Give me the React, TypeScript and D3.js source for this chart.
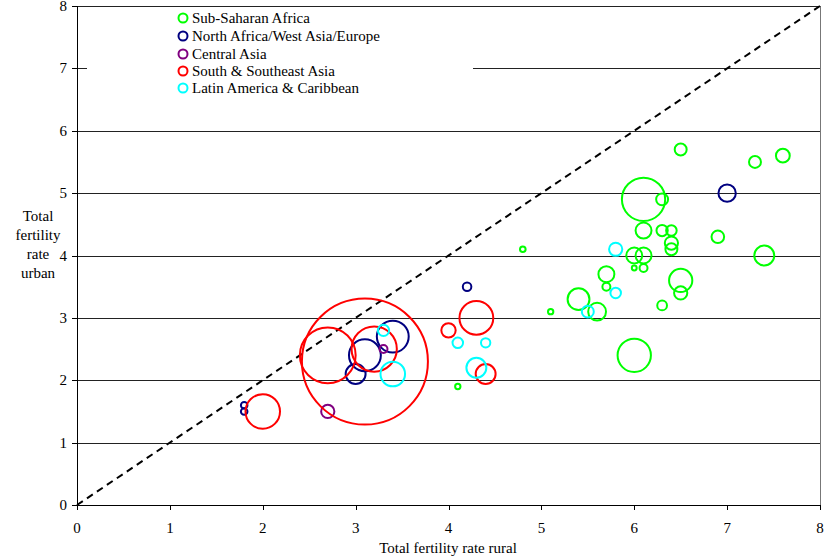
import React from "react";
import * as d3 from "d3";

const W = 824;
const H = 558;

const regions = [
  "Sub-Saharan Africa",
  "North Africa/West Asia/Europe",
  "Central Asia",
  "South & Southeast Asia",
  "Latin America & Caribbean",
];
const regionColors = ["#00ff00", "#000080", "#800080", "#ff0000", "#00ffff"];

// rural TFR, urban TFR, population (millions, approx. from bubble size)
const ssaRural = [6.5, 7.3, 7.6, 6.1, 6.3, 6.1, 6.3, 6.4, 6.4, 6.4, 6.9, 7.4, 4.8, 6.0, 6.1, 6.0, 6.1, 5.7, 6.5, 6.5, 5.7, 5.4, 5.1, 5.6, 6.3, 6.0, 4.1];
const ssaUrban = [5.7, 5.5, 5.6, 4.9, 4.9, 4.4, 4.4, 4.4, 4.2, 4.1, 4.3, 4.0, 4.1, 4.0, 4.0, 3.8, 3.8, 3.7, 3.6, 3.4, 3.5, 3.3, 3.1, 3.1, 3.2, 2.4, 1.9];
const ssaPop = [9, 9, 12, 118, 9, 16, 8, 7, 11, 9, 10, 25, 2, 16, 16, 1.5, 4, 16, 34, 11, 4, 30, 1.8, 20, 6, 70, 1.8];

const nawaRural = [7.0, 4.2, 3.4, 3.1, 3.0, 1.8, 1.8];
const nawaUrban = [5.0, 3.5, 2.7, 2.4, 2.1, 1.6, 1.5];
const nawaPop = [19, 4.6, 64, 64, 25, 2.7, 2.7];

const caRural = [3.3, 2.7];
const caUrban = [2.5, 1.5];
const caPop = [4, 11];

const ssaaRural = [3.1, 2.7, 3.2, 4.3, 4.0, 4.4, 2.0];
const ssaaUrban = [2.3, 2.4, 2.5, 3.0, 2.8, 2.1, 1.5];
const ssaaPop = [1000, 196, 129, 72, 13, 25, 75];

const lacRural = [5.8, 5.8, 5.5, 4.1, 4.4, 4.3, 3.3, 3.4];
const lacUrban = [4.1, 3.4, 3.1, 2.6, 2.6, 2.2, 2.8, 2.1];
const lacPop = [11, 7, 9, 7, 5.5, 25, 8, 38];

const ticks = [0, 1, 2, 3, 4, 5, 6, 7, 8];

const groups = [
  { rural: ssaRural, urban: ssaUrban, pop: ssaPop },
  { rural: nawaRural, urban: nawaUrban, pop: nawaPop },
  { rural: caRural, urban: caUrban, pop: caPop },
  { rural: ssaaRural, urban: ssaaUrban, pop: ssaaPop },
  { rural: lacRural, urban: lacUrban, pop: lacPop },
];

const FONT = "Liberation Serif, DejaVu Serif, serif";
const textStyle = { fontFamily: FONT, fontSize: "15px" };

export default function App() {
  const left = 77;
  const right = 820;
  const top = 6;
  const bottom = 505;
  const x = d3.scaleLinear().domain([0, 8]).range([left, right]);
  const y = d3.scaleLinear().domain([0, 8]).range([bottom, top]);
  const r = d3.scaleSqrt().domain([0, 1000]).range([0, 63]);

  const points: { cx: number; cy: number; rr: number; color: string }[] = [];
  groups.forEach((g, gi) => {
    g.rural.forEach((v, i) => {
      points.push({ cx: x(v), cy: y(g.urban[i]), rr: r(g.pop[i]), color: regionColors[gi] });
    });
  });

  const legendRows = [18, 36, 54, 71, 88];

  return (
    <svg width={W} height={H} style={{ position: "absolute", left: 0, top: 0, background: "#fff" }}>
      <rect x={0} y={0} width={W} height={H} fill="#fff" />
      {ticks.slice(1).map((t) => (
        <line key={"g" + t} x1={left} x2={right} y1={Math.round(y(t)) + 0.5} y2={Math.round(y(t)) + 0.5} stroke="#222" strokeWidth={1} />
      ))}
      <line x1={right + 0.5} x2={right + 0.5} y1={top} y2={bottom} stroke="#777" strokeWidth={1} />
      <rect x={87} y={8} width={386} height={88} fill="#fff" />
      <line x1={x(0)} y1={y(0)} x2={x(8)} y2={y(8)} stroke="#000" strokeWidth={2} strokeDasharray="7,5" />
      {points.map((p, i) => (
        <circle key={i} cx={p.cx} cy={p.cy} r={p.rr} fill="none" stroke={p.color} strokeWidth={2} />
      ))}
      <line x1={left + 0.5} x2={left + 0.5} y1={top} y2={bottom} stroke="#000" strokeWidth={1} />
      <line x1={left} x2={right + 1} y1={bottom + 0.5} y2={bottom + 0.5} stroke="#000" strokeWidth={1} />
      {ticks.map((t) => (
        <g key={"yt" + t}>
          <line x1={left - 5} x2={left} y1={Math.round(y(t)) + 0.5} y2={Math.round(y(t)) + 0.5} stroke="#000" />
          <text x={left - 10} y={y(t) + 5} textAnchor="end" style={textStyle}>
            {t}
          </text>
        </g>
      ))}
      {ticks.map((t) => (
        <g key={"xt" + t}>
          <line x1={Math.round(x(t)) + 0.5} x2={Math.round(x(t)) + 0.5} y1={bottom} y2={bottom + 5} stroke="#000" />
          <text x={x(t)} y={533} textAnchor="middle" style={textStyle}>
            {t}
          </text>
        </g>
      ))}
      <text x={448} y={553} textAnchor="middle" style={textStyle}>
        Total fertility rate rural
      </text>
      <text textAnchor="middle" style={textStyle}>
        <tspan x={38} y={221}>Total</tspan>
        <tspan x={38} y={240}>fertility</tspan>
        <tspan x={38} y={259}>rate</tspan>
        <tspan x={38} y={278}>urban</tspan>
      </text>
      {regions.map((name, i) => (
        <g key={name}>
          <circle cx={183} cy={legendRows[i]} r={4.5} fill="none" stroke={regionColors[i]} strokeWidth={2} />
          <text x={192} y={legendRows[i] + 5} style={textStyle}>
            {name}
          </text>
        </g>
      ))}
    </svg>
  );
}
